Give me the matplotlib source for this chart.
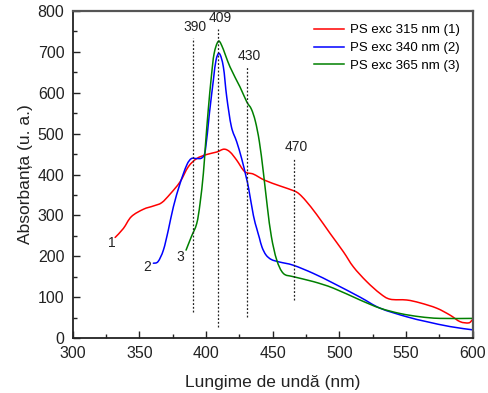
import matplotlib
matplotlib.use("Agg")
import numpy as np
import matplotlib.pyplot as plt
from matplotlib.path import Path
from matplotlib.patches import PathPatch
from matplotlib.lines import Line2D
from matplotlib.ticker import MultipleLocator

plt.rcParams['font.family'] = ['Liberation Sans', 'DejaVu Sans']

# PS excited at 315 nm (1)
wl_1 = [331.8, 338, 344, 353, 360.5, 366.7, 373, 380.5, 386.7, 393, 400.5, 408,
        413.5, 418, 423, 429, 435.5, 444, 455.5, 466, 470, 475, 483, 493, 503,
        510.5, 520.5, 530.5, 538, 550.5, 560.5, 573, 583, 590.5, 597, 599.5]
abs_1 = [246, 268, 297, 315, 323, 331, 352, 382, 419, 439, 449, 455,
         462, 455, 435, 407, 401, 386, 372, 360, 352, 335, 302, 256, 211,
         174, 138, 109, 95, 93, 86, 73, 56, 40, 37, 44]

# PS excited at 340 nm (2)
wl_2 = [360.5, 364, 368, 371.7, 375.5, 380.5, 385.5, 389, 393, 397, 399.5,
        402.5, 405.5, 407.5, 410, 413, 415.5, 419, 423, 426.7, 430, 432,
        435.5, 438, 440, 442, 445, 449, 455, 465.5, 480.5, 495.5, 515.5,
        530.5, 550.5, 565.5, 583, 600]
abs_2 = [183, 187, 215, 264, 321, 378, 423, 439, 439, 441, 460,
         549, 631, 680, 696, 663, 590, 517, 480, 439, 395, 365,
         300, 268, 245, 222, 203, 192, 186, 178, 158, 134, 100,
         73, 52, 40, 28, 20]

# PS excited at 365 nm (3)
wl_3 = [385, 389, 393, 395.5, 398, 399.5, 401.7, 404, 406, 409, 411.7, 418,
        425.5, 430.5, 434, 437, 440, 443, 446, 449, 453, 458, 465.5,
        480.5, 495.5, 515.5, 530.5, 545.5, 560.5, 575.5, 600]
abs_3 = [215, 248, 280, 329, 403, 470, 560, 640, 695, 725, 716, 663,
         614, 578, 560, 530, 480, 405, 320, 248, 191, 158, 150,
         138, 122, 93, 73, 60, 52, 48, 48]

series_labels = ['PS exc 315 nm (1)', 'PS exc 340 nm (2)', 'PS exc 365 nm (3)']
series_colors = ['#ff0000', '#0000ff', '#008000']
curve_numbers = ['1', '2', '3']
number_x = [329, 355.5, 380.5]
number_y = [232, 174, 199]

# Marked band positions: (label, x, y_bottom, y_top)
band_labels = ['390', '409', '430', '470']
band_x = [390, 409, 431, 466]
band_lo = [64, 27, 52, 93]
band_hi = [734, 755, 663, 439]


def spline_path(xs, ys):
    """Smooth Catmull-Rom connection through the points, as cubic Beziers."""
    p = np.column_stack([xs, ys]).astype(float)
    ext = np.vstack([p[0], p, p[-1]])
    verts = [p[0]]
    codes = [Path.MOVETO]
    for i in range(1, len(ext) - 2):
        p0, p1, p2, p3 = ext[i - 1], ext[i], ext[i + 1], ext[i + 2]
        verts += [p1 + (p2 - p0) / 6.0, p2 - (p3 - p1) / 6.0, p2]
        codes += [Path.CURVE4] * 3
    return Path(verts, codes)


fig = plt.figure(figsize=(4.89, 3.93), dpi=100)
ax = fig.add_axes([0.1487, 0.1399, 0.818, 0.8321])

handles = []
for wl, ab, lab, col in zip([wl_1, wl_2, wl_3], [abs_1, abs_2, abs_3],
                            series_labels, series_colors):
    ax.add_patch(PathPatch(spline_path(wl, ab), fill=False, edgecolor=col,
                           lw=1.1, capstyle='round', joinstyle='round'))
    handles.append(Line2D([], [], color=col, lw=1.1, label=lab))

for lab, x, lo, hi in zip(band_labels, band_x, band_lo, band_hi):
    ax.plot([x, x], [lo, hi], color='#222222', lw=0.9, ls=(0, (1.5, 1.5)))
    ax.text(x + 1.5, hi + 10, lab, ha='center', va='bottom', fontsize=10,
            color='#222222')

for num, x, y in zip(curve_numbers, number_x, number_y):
    ax.text(x, y, num, ha='center', va='center', fontsize=10, color='#222222')

ax.set_xlim(300, 600)
ax.set_ylim(0, 800)
ax.xaxis.set_major_locator(MultipleLocator(50))
ax.xaxis.set_minor_locator(MultipleLocator(25))
ax.yaxis.set_major_locator(MultipleLocator(100))
ax.yaxis.set_minor_locator(MultipleLocator(50))
ax.tick_params(which='both', direction='in', labelsize=11.5, colors='#222222')
ax.tick_params(which='major', length=5, width=1)
ax.tick_params(which='minor', length=3, width=1)
ax.tick_params(axis='x', pad=6)
ax.tick_params(axis='y', pad=6)

for side in ['left', 'bottom']:
    ax.spines[side].set_linewidth(1.3)
    ax.spines[side].set_color('#222222')
for side in ['top', 'right']:
    ax.spines[side].set_linewidth(1.6)
    ax.spines[side].set_color('#555555')

ax.set_xlabel('Lungime de undă (nm)', fontsize=12.5, labelpad=10, color='#222222')
ax.set_ylabel('Absorbanța (u. a.)', fontsize=12.5, labelpad=3, color='#222222')

ax.legend(handles=handles, loc='upper right', frameon=False, fontsize=9.5,
          handlelength=2.3, handletextpad=0.4, labelspacing=0.42,
          borderaxespad=0.6, bbox_to_anchor=(1.0, 1.0))

fig.savefig('out.png', dpi=100)
